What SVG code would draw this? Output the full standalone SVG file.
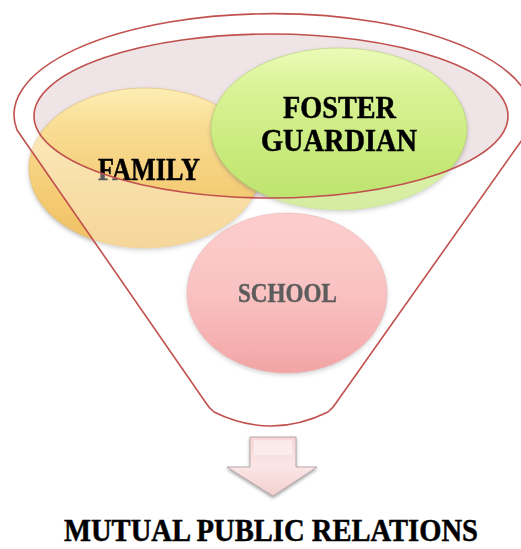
<svg xmlns="http://www.w3.org/2000/svg" width="521" height="549" viewBox="0 0 521 549">
  <defs>
    <style>
      .label { font-family: "Liberation Serif", "Times New Roman", serif; font-weight: bold; fill: #000; stroke: #000; stroke-width: 0.5; text-anchor: middle; }
      .funnel-line { fill: none; stroke: #c0504d; stroke-width: 1.6; stroke-linejoin: round; }
      .node { filter: url(#soft); }
    </style>
    <linearGradient id="gFamily" x1="0" y1="0" x2="0" y2="1">
      <stop offset="0" stop-color="#fdeeb4"/>
      <stop offset="0.25" stop-color="#f9dc92"/>
      <stop offset="0.7" stop-color="#f4ca72"/>
      <stop offset="1" stop-color="#efc062"/>
    </linearGradient>
    <linearGradient id="gFoster" x1="0" y1="0" x2="0" y2="1">
      <stop offset="0" stop-color="#ecfbb8"/>
      <stop offset="0.25" stop-color="#d9f396"/>
      <stop offset="0.7" stop-color="#c6e978"/>
      <stop offset="1" stop-color="#bde26c"/>
    </linearGradient>
    <linearGradient id="gSchool" x1="0" y1="0" x2="0" y2="1">
      <stop offset="0" stop-color="#fcb2b2"/>
      <stop offset="0.5" stop-color="#f7a0a0"/>
      <stop offset="1" stop-color="#ec7272"/>
    </linearGradient>
    <linearGradient id="gArrow" x1="0" y1="0" x2="0" y2="1">
      <stop offset="0" stop-color="#f7d6d6"/>
      <stop offset="0.5" stop-color="#fbe6e6"/>
      <stop offset="1" stop-color="#f3cfcf"/>
    </linearGradient>
    <filter id="soft" x="-10%" y="-10%" width="120%" height="125%">
      <feDropShadow dx="0" dy="2" stdDeviation="2" flood-color="#6b6b6b" flood-opacity="0.45"/>
    </filter>
    <filter id="arrowShadow" x="-20%" y="-20%" width="140%" height="140%">
      <feDropShadow dx="0" dy="2" stdDeviation="1.8" flood-color="#555" flood-opacity="0.5"/>
    </filter>
  </defs>

  <!-- mouth of the funnel, tinted backdrop -->
  <ellipse id="funnel-mouth-fill" cx="271" cy="116" rx="237" ry="82" fill="#efe4e6"/>

  <!-- nodes -->
  <g id="family" class="node">
    <ellipse cx="145" cy="168" rx="116" ry="80" fill="url(#gFamily)" stroke="#e2b35c" stroke-opacity="0.5" stroke-width="1"/>
    <text class="label" x="149" y="180" font-size="31" textLength="102" lengthAdjust="spacingAndGlyphs">FAMILY</text>
  </g>
  <g id="foster-guardian" class="node">
    <ellipse cx="339" cy="129" rx="128" ry="81" fill="url(#gFoster)" stroke="#a9cf60" stroke-opacity="0.5" stroke-width="1"/>
    <text class="label" x="339.5" y="118" font-size="31" textLength="113" lengthAdjust="spacingAndGlyphs">FOSTER</text>
    <text class="label" x="339" y="151" font-size="31" textLength="156" lengthAdjust="spacingAndGlyphs">GUARDIAN</text>
  </g>
  <g id="school" class="node">
    <ellipse cx="287" cy="293" rx="100" ry="80" fill="url(#gSchool)" stroke="#d98080" stroke-opacity="0.5" stroke-width="1"/>
    <text class="label" x="287.5" y="302" font-size="28" textLength="99" lengthAdjust="spacingAndGlyphs">SCHOOL</text>
  </g>

  <!-- funnel body: translucent wash with the mouth left open -->
  <path id="funnel-wash" fill="#ffffff" fill-opacity="0.36" fill-rule="evenodd"
        d="M17,130 A259,101 0 1 1 529,130 L334,406 Q271,441 208,406 Z
           M34,116 A237,82 0 1 0 508,116 A237,82 0 1 0 34,116 Z"/>

  <!-- funnel outlines -->
  <path class="funnel-line" d="M17,130 A259,101 0 1 1 529,130 L336,403 Q333,408 328,412 Q271,440 214,412 Q209,408 206,403 Z"/>
  <ellipse class="funnel-line" cx="271" cy="116" rx="237" ry="82"/>

  <!-- connector: block arrow to the result -->
  <g id="connectors">
    <path d="M250,437 L296,437 L296,467 L317,467 L273,496 L227,467 L250,467 Z"
          fill="url(#gArrow)" stroke="#b9a9a9" stroke-width="1" filter="url(#arrowShadow)"/>
    <path d="M254,440 L292,440 L292,455 L254,455 Z" fill="#ffffff" fill-opacity="0.45"/>
  </g>

  <g id="result">
    <text class="label" x="271" y="541" font-size="31" textLength="414" lengthAdjust="spacingAndGlyphs">MUTUAL PUBLIC RELATIONS</text>
  </g>
</svg>
